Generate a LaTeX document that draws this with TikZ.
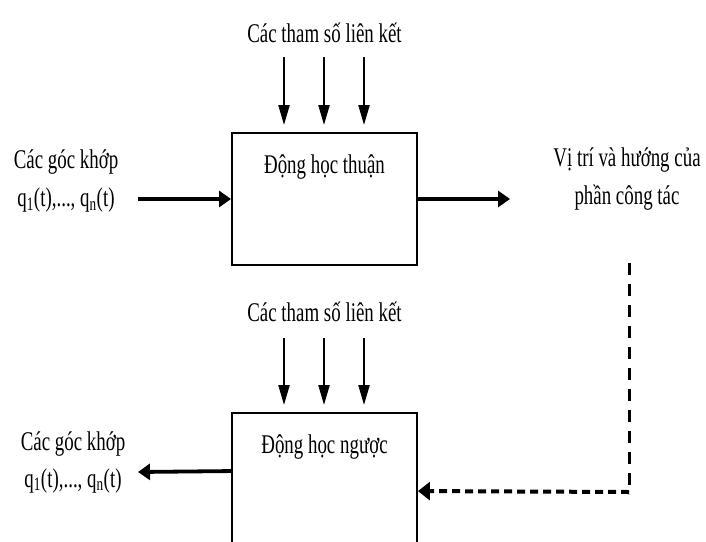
\documentclass[tikz,border=0pt]{standalone}
\usepackage{fontspec}
\setmainfont{Liberation Serif}[FakeStretch=0.70]
\usetikzlibrary{arrows.meta,calc}
\begin{document}
\begin{tikzpicture}[x=1pt,y=-1pt,
  lbl/.style={font=\fontsize{27}{37}\selectfont, align=center, inner sep=0pt},
  blk/.style={draw, line width=1.9pt, minimum width=185pt, inner sep=0pt},
  varrow/.style={line width=2.3pt, -{Triangle[length=20pt,width=11pt]}},
  harrow/.style={line width=3.8pt, -{Triangle[length=12pt,width=16pt]}},
  vdash/.style={line width=3pt, dash pattern=on 12pt off 9pt},
  hdash/.style={line width=4pt, dash pattern=on 8pt off 5pt, -{Triangle[length=12pt,width=18pt]}}]
\clip (0,0) rectangle (706,541);
\fill[white] (0,0) rectangle (706,541);

% upper block
\node[blk, minimum height=132pt] (fk) at (324.5,199) {};
\node[lbl] (fkt) at (324.5,167) {Động học thuận};
\node[lbl] (p1) at (324.5,33) {Các tham số liên kết};
\foreach \i/\x in {1/284,2/324,3/364}{
  \coordinate (s\i) at (\x,57);
  \coordinate (e\i) at (\x,125);
  \draw[varrow] (s\i) -- (e\i);
}
\node[lbl, font=\fontsize{27}{38}\selectfont] (qin) at (66,181) {Các góc khớp\\q\textsubscript{1}(t),..., q\textsubscript{n}(t)};
\coordinate (inS) at (138,199);
\draw[harrow] (inS) -- (fk.west);
\node[lbl, font=\fontsize{27}{38}\selectfont] (pos) at (627,179) {Vị trí và hướng của\\phần công tác};
\coordinate (outE) at (510,199);
\draw[harrow] (fk.east) -- (outE);

% lower block
\node[blk, minimum height=147pt] (ik) at (324.5,486.5) {};
\node[lbl] (ikt) at (324.5,447) {Động học ngược};
\node[lbl] (p2) at (324.5,312) {Các tham số liên kết};
\foreach \i/\x in {1/284,2/324,3/364}{
  \coordinate (t\i) at (\x,338);
  \coordinate (f\i) at (\x,405);
  \draw[varrow] (t\i) -- (f\i);
}
\node[lbl] (qout) at (73,462) {Các góc khớp\\q\textsubscript{1}(t),..., q\textsubscript{n}(t)};
\coordinate (outW) at (138,472);
\draw[harrow] ($(ik.north west)+(0,59)$) -- (outW);

% dashed feedback
\coordinate (d0) at (629,263);
\coordinate (d1) at (629,492);
\draw[vdash] (d0) -- ($(d1)+(0,2)$);
\draw[hdash] (d1) -- ($(ik.north east)+(0,79)$);
\end{tikzpicture}
\end{document}
